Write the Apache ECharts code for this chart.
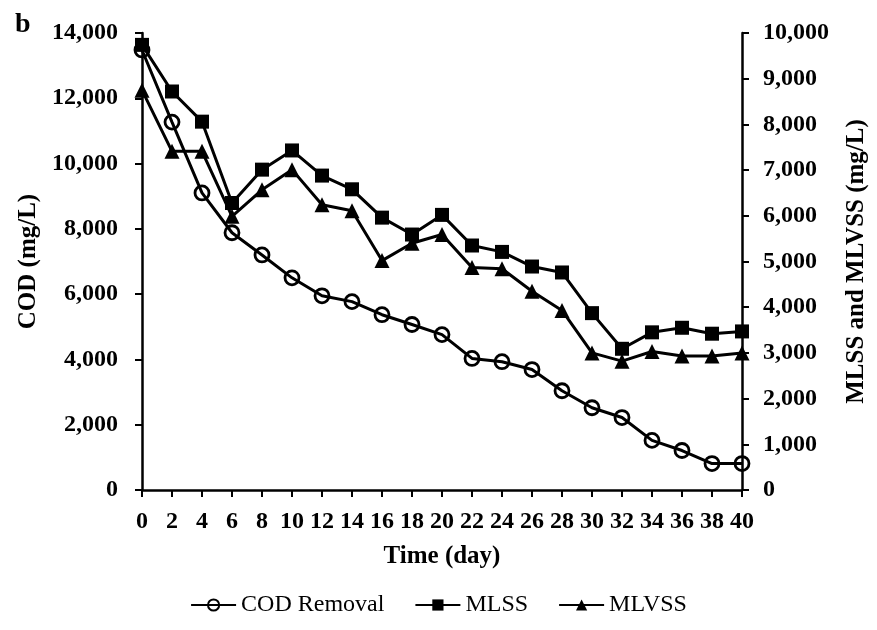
<!DOCTYPE html>
<html>
<head>
<meta charset="utf-8">
<script src="https://cdn.jsdelivr.net/npm/echarts@6/dist/echarts.min.js"></script>
<style>html,body{margin:0;padding:0;background:#fff}#c{width:877px;height:630px}</style>
</head>
<body>
<div id="c"></div>
<script>
var days = [0,2,4,6,8,10,12,14,16,18,20,22,24,26,28,30,32,34,36,38,40];
var codRemoval = [13480,11270,9100,7880,7200,6500,5950,5770,5370,5070,4760,4030,3930,3690,3040,2520,2220,1520,1210,810,810];
var mlss = [9740,8720,8060,6280,7010,7430,6880,6580,5960,5590,6020,5350,5210,4890,4760,3870,3090,3450,3550,3420,3470];
var mlvss = [8750,7410,7410,5990,6570,7010,6240,6110,5020,5400,5590,4870,4840,4350,3930,3000,2820,3030,2930,2930,3000];

function pairs(v){ return days.map(function(d,i){ return [d, v[i]]; }); }
function fmt(v){ return v.toLocaleString('en-US'); }

var FONT = '"Liberation Serif", "Times New Roman", serif';
var titleTxt = { color:'#000', fontFamily: FONT, fontWeight:'bold', fontSize:25 };
var labelBase = { color:'#000', fontFamily:FONT, fontWeight:'bold', fontSize:24 };

var chart = echarts.init(document.getElementById('c'), null, {renderer:'canvas'});
chart.setOption({
  animation:false,
  backgroundColor:'#fff',
  title:{ text:'b', left:10, top:6, textStyle:{ color:'#000', fontFamily:FONT, fontWeight:'bold', fontSize:28 } },
  grid:{ left:142, right:132, top:33, bottom:140 },
  legend:{
    bottom:8, left:'center', itemWidth:45, itemHeight:14, itemGap:30,
    textStyle:{ color:'#000', fontFamily:FONT, fontSize:24 },
    data:['COD Removal','MLSS','MLVSS']
  },
  xAxis:{
    type:'value', min:0, max:40, interval:2,
    name:'Time (day)', nameLocation:'middle', nameGap:54,
    nameTextStyle:titleTxt,
    axisLine:{ lineStyle:{ color:'#000', width:2.5 } },
    axisTick:{ show:true, inside:false, length:7, lineStyle:{ color:'#000', width:2 } },
    axisLabel:Object.assign({ margin:20 }, labelBase),
    splitLine:{ show:false }
  },
  yAxis:[{
    type:'value', min:0, max:14000, interval:2000,
    name:'COD (mg/L)', nameLocation:'middle', nameGap:93, nameRotate:90,
    nameTextStyle:titleTxt,
    axisLine:{ show:true, lineStyle:{ color:'#000', width:2.5 } },
    axisTick:{ show:true, inside:false, length:7, lineStyle:{ color:'#000', width:2 } },
    axisLabel:Object.assign({ margin:24, formatter:fmt }, labelBase),
    splitLine:{ show:false }
  },{
    type:'value', min:0, max:10000, interval:1000, position:'right',
    name:'MLSS and MLVSS (mg/L)', nameLocation:'middle', nameGap:102, nameRotate:90,
    nameTextStyle:titleTxt,
    axisLine:{ show:true, lineStyle:{ color:'#000', width:2.5 } },
    axisTick:{ show:true, inside:false, length:7, lineStyle:{ color:'#000', width:2 } },
    axisLabel:Object.assign({ margin:21, formatter:fmt }, labelBase),
    splitLine:{ show:false }
  }],
  series:[{
    name:'COD Removal', type:'line', yAxisIndex:0, data:pairs(codRemoval),
    symbol:'circle', symbolSize:14,
    lineStyle:{ color:'#000', width:3 },
    itemStyle:{ color:'rgba(255,255,255,0)', borderColor:'#000', borderWidth:2.8 },
    z:3
  },{
    name:'MLSS', type:'line', yAxisIndex:1, data:pairs(mlss),
    symbol:'rect', symbolSize:14,
    lineStyle:{ color:'#000', width:3 },
    itemStyle:{ color:'#000', borderColor:'#000', borderWidth:0 },
    z:4
  },{
    name:'MLVSS', type:'line', yAxisIndex:1, data:pairs(mlvss),
    symbol:'triangle', symbolSize:15,
    lineStyle:{ color:'#000', width:3 },
    itemStyle:{ color:'#000', borderColor:'#000', borderWidth:0 },
    z:4
  }]
});
</script>
</body>
</html>
